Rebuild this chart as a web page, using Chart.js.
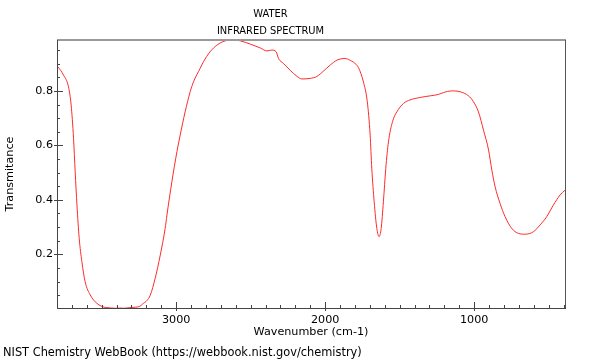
<!DOCTYPE html>
<html><head><meta charset="utf-8">
<script src="https://cdn.jsdelivr.net/npm/chart.js@4/dist/chart.umd.min.js"></script>
<style>
html,body{margin:0;padding:0;background:#fff;}
#wrap{position:relative;width:600px;height:360px;}
#footer{position:absolute;left:3px;top:345px;font:11.4px "DejaVu Sans";color:#000;white-space:nowrap;line-height:14px;}
</style></head><body>
<div id="wrap"><canvas id="c" width="600" height="360"></canvas>
<div id="footer">NIST Chemistry WebBook (https://webbook.nist.gov/chemistry)</div></div>
<script>
const wavenumbers = [3799,3794,3756,3723,3705,3689,3678,3666,3651,3633,3611,3577,3532,3476,3409,3350,3297,3245,3225,3197,3174,3141,3107,3074,3062,3029,2995,2973,2940,2906,2884,2839,2817,2772,2727,2671,2615,2570,2503,2436,2391,2358,2329,2313,2280,2235,2190,2156,2101,2056,2011,1966,1921,1866,1821,1799,1776,1743,1717,1698,1687,1671,1653,1638,1624,1609,1593,1575,1548,1519,1474,1430,1362,1295,1240,1206,1150,1094,1038,1004,971,937,903,881,859,826,792,747,703,658,602,557,513,468,423,389];
const transmittance = [0.890,0.888,0.858,0.815,0.748,0.626,0.503,0.381,0.259,0.173,0.099,0.051,0.020,0.005,0.002,0.002,0.005,0.009,0.018,0.030,0.050,0.112,0.197,0.295,0.344,0.466,0.577,0.638,0.723,0.797,0.833,0.883,0.907,0.944,0.968,0.984,0.988,0.984,0.972,0.958,0.947,0.950,0.944,0.919,0.901,0.876,0.854,0.844,0.846,0.853,0.873,0.895,0.913,0.919,0.909,0.901,0.885,0.833,0.760,0.638,0.516,0.393,0.295,0.265,0.295,0.393,0.516,0.613,0.687,0.723,0.754,0.767,0.776,0.782,0.787,0.794,0.800,0.797,0.782,0.760,0.723,0.656,0.583,0.509,0.448,0.387,0.338,0.295,0.277,0.274,0.283,0.308,0.338,0.381,0.418,0.436];
const xTickValues = [3000, 2000, 1000];
const yTickValues = [0.2, 0.4, 0.6, 0.8];
const titleText = 'WATER';
const subtitleText = 'INFRARED SPECTRUM';
const xTitle = 'Wavenumber (cm-1)';
const yTitle = 'Transmitance';

const FONT = 'DejaVu Sans';
const TITLE_FONT = "'DejaVu Sans Condensed', 'DejaVu Sans'";
const points = wavenumbers.map((w, i) => ({x: w, y: transmittance[i]}));

const frameTicks = {
  id: 'frameTicks',
  afterDraw(chart) {
    const {ctx, chartArea: a, scales: {x, y}} = chart;
    ctx.save();
    ctx.strokeStyle = '#9a9a9a'; ctx.lineWidth = 2;
    ctx.beginPath(); ctx.moveTo(a.left, a.top); ctx.lineTo(a.right + 1, a.top); ctx.stroke();
    ctx.strokeStyle = '#555'; ctx.lineWidth = 1;
    ctx.beginPath(); ctx.moveTo(a.right + 0.5, a.top); ctx.lineTo(a.right + 0.5, a.bottom); ctx.stroke();
    ctx.strokeStyle = '#444'; ctx.lineWidth = 1;
    ctx.beginPath();
    ctx.moveTo(a.left + 0.5, a.top); ctx.lineTo(a.left + 0.5, a.bottom + 0.5);
    ctx.moveTo(a.left, a.bottom + 0.5); ctx.lineTo(a.right + 1, a.bottom + 0.5);
    for (let k = 4; k <= 38; k++) {
      const v = k * 100;
      if (v < x.min || v > x.max) continue;
      const px = Math.round(x.getPixelForValue(v)) + 0.5;
      const major = k % 10 === 0;
      ctx.moveTo(px, a.bottom + (major ? 3 : 0));
      ctx.lineTo(px, a.bottom - (major ? 6 : 3));
    }
    for (let k = 1; k <= 19; k++) {
      const v = k * 0.05;
      if (v < y.min || v > y.max) continue;
      const py = Math.round(y.getPixelForValue(v)) + 0.5;
      const major = k % 4 === 0;
      ctx.moveTo(a.left - (major ? 3 : 0), py);
      ctx.lineTo(a.left + (major ? 6 : 3), py);
    }
    ctx.stroke();
    ctx.restore();
  }
};

new Chart(document.getElementById('c'), {
  type: 'line',
  data: {
    datasets: [{
      data: points,
      borderColor: '#ff2a2a',
      borderWidth: 1,
      pointRadius: 0,
      fill: false,
      cubicInterpolationMode: 'monotone'
    }]
  },
  options: {
    responsive: false,
    animation: false,
    devicePixelRatio: 1,
    layout: {padding: {left: -24, right: 35, top: 0, bottom: 0}},
    plugins: {
      legend: {display: false},
      tooltip: {enabled: false},
      title: {display: true, text: titleText, color: '#000',
        font: {family: TITLE_FONT, size: 11, weight: 'normal', lineHeight: 1.2}, padding: {top: 7.5, bottom: 0}},
      subtitle: {display: true, text: subtitleText, color: '#000',
        font: {family: TITLE_FONT, size: 11, weight: 'normal', lineHeight: 1.2}, padding: {top: 3.7, bottom: 2.4}}
    },
    scales: {
      x: {
        type: 'linear', reverse: true, min: 390, max: 3800,
        afterBuildTicks: s => { s.ticks = xTickValues.map(v => ({value: v})); },
        afterFit: s => { s.height = 52; },
        grid: {display: false, drawTicks: false},
        border: {display: false},
        ticks: {color: '#000', padding: 5, maxRotation: 0, autoSkip: false,
          font: {family: FONT, size: 11.2}, callback: v => String(v)},
        title: {display: true, text: xTitle, color: '#000',
          font: {family: FONT, size: 11.2, lineHeight: 1.2}, padding: {top: 0, bottom: 21.3}}
      },
      y: {
        type: 'linear', min: 0.003, max: 0.987,
        afterBuildTicks: s => { s.ticks = yTickValues.map(v => ({value: v})); },
        afterFit: s => { s.width = 81; },
        grid: {display: false, drawTicks: false},
        border: {display: false},
        ticks: {color: '#000', padding: 4, font: {family: FONT, size: 11.2},
          callback: v => Number(v).toFixed(1)},
        title: {display: true, text: yTitle, color: '#000',
          font: {family: FONT, size: 11.2, lineHeight: 1.2}, padding: {top: 27.3, bottom: 0}}
      }
    }
  },
  plugins: [frameTicks]
});
</script>
</body></html>
